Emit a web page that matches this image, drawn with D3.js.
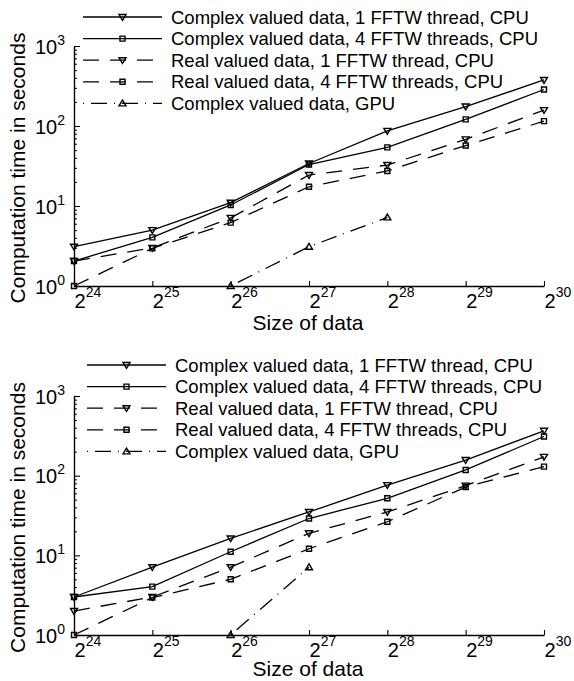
<!DOCTYPE html>
<html>
<head>
<meta charset="utf-8">
<script src="https://cdn.jsdelivr.net/npm/d3@7"></script>
<style>
body { margin: 0; background: #fff; }
svg { display: block; font-family: "Liberation Sans", Arial, Helvetica, sans-serif; }
</style>
</head>
<body>
<svg id="chart" width="574" height="681"></svg>
<script>
// sizes are powers of two, 2^24 .. 2^30
var EXPONENTS = [24, 25, 26, 27, 28, 29, 30];
var Y_DECADES = [0, 1, 2, 3];

var SERIES_NAMES = [
	"Complex valued data, 1 FFTW thread, CPU",
	"Complex valued data, 4 FFTW threads, CPU",
	"Real valued data, 1 FFTW thread, CPU",
	"Real valued data, 4 FFTW threads, CPU",
	"Complex valued data, GPU"
];

// upper plot
var TOP_COMPLEX_1 = [3.1, 5.0, 11, 34, 87, 175, 376];
var TOP_COMPLEX_4 = [2.05, 4.05, 10.3, 33, 54, 121, 286];
var TOP_REAL_1 = [2.05, 3.0, 7.1, 24.4, 32.5, 68, 158];
var TOP_REAL_4 = [1.0, 2.95, 6.2, 17.4, 27.4, 57, 115];
var TOP_GPU = [null, null, 1.0, 3.1, 7.2, null, null];

// lower plot
var BOT_COMPLEX_1 = [3.0, 7.1, 16.3, 35, 76, 157, 366];
var BOT_COMPLEX_4 = [3.0, 4.05, 11.1, 29, 52, 118, 310];
var BOT_REAL_1 = [2.0, 3.0, 7.1, 18.9, 35, 75, 172];
var BOT_REAL_4 = [1.0, 2.95, 5.0, 12.1, 26.4, 72, 130];
var BOT_GPU = [null, null, 1.0, 7.1, null, null, null];

var STYLES = [
	{ dash: null, marker: "down" },
	{ dash: null, marker: "square" },
	{ dash: "16,11", marker: "down" },
	{ dash: "16,11", marker: "square" },
	{ dash: "1,7,16,7", marker: "up" }
];

var svg = d3.select("#chart");

function markerPath(kind)
{
	if (kind == "square") return "M-2.5,-2.5H2.5V2.5H-2.5Z";
	if (kind == "up") return "M0,-3.3L3.5,2.5L-3.5,2.5Z";
	return "M0,3.3L3.5,-2.5L-3.5,-2.5Z";
}

function drawPanel(cfg)
{
	var x = d3.scaleLog().base(2)
		.domain([Math.pow(2, EXPONENTS[0]), Math.pow(2, EXPONENTS[EXPONENTS.length - 1])])
		.range([cfg.left, cfg.right]);
	var y = d3.scaleLog()
		.domain([1, 1000])
		.range([cfg.bottom, cfg.top]);

	var g = svg.append("g");

	// minor y ticks
	var minor = [];
	for (var d = 0; d < 3; d++)
		for (var k = 2; k < 10; k++) minor.push(k * Math.pow(10, d));
	g.append("g")
		.attr("transform", "translate(" + cfg.left + ",0)")
		.call(d3.axisLeft(y).tickValues(minor).tickSizeInner(-3).tickSizeOuter(0).tickFormat(""))
		.call(function(a) { a.select(".domain").remove(); a.selectAll("line").attr("stroke-width", 1); });

	// major y ticks
	var yAxis = g.append("g")
		.attr("transform", "translate(" + cfg.left + ",0)")
		.call(d3.axisLeft(y).tickValues(Y_DECADES.map(function(e) { return Math.pow(10, e); }))
			.tickSizeInner(-6).tickSizeOuter(0).tickFormat(""));
	yAxis.select(".domain").attr("stroke-width", 1.4);
	yAxis.selectAll("line").attr("stroke-width", 1.1);
	yAxis.selectAll(".tick").append("text")
		.attr("x", -9).attr("y", 7)
		.attr("text-anchor", "end")
		.attr("fill", "#000")
		.style("font-family", "inherit")
		.each(function(v) {
			var t = d3.select(this);
			t.append("tspan").style("font-size", "20px").text("10");
			t.append("tspan").style("font-size", "14px").attr("dy", -9).text(Math.round(Math.log10(v)));
		});

	// x axis
	var xAxis = g.append("g")
		.attr("transform", "translate(0," + cfg.bottom + ")")
		.call(d3.axisBottom(x).tickValues(EXPONENTS.map(function(e) { return Math.pow(2, e); }))
			.tickSizeInner(-5).tickSizeOuter(0).tickFormat(""));
	xAxis.select(".domain").attr("stroke-width", 1.4);
	xAxis.selectAll("line").attr("stroke-width", 1.1);
	xAxis.selectAll(".tick").append("text")
		.attr("x", 0).attr("y", 22)
		.attr("text-anchor", "start")
		.attr("fill", "#000")
		.style("font-family", "inherit")
		.each(function(v) {
			var t = d3.select(this);
			t.append("tspan").style("font-size", "20px").text("2");
			t.append("tspan").style("font-size", "14px").attr("dy", -11).text(Math.round(Math.log2(v)));
		});

	// axis titles
	g.append("text")
		.attr("x", 308).attr("y", cfg.titleY)
		.attr("text-anchor", "middle")
		.style("font-size", "21px")
		.text("Size of data");
	g.append("text")
		.attr("transform", "translate(25," + ((cfg.top + cfg.bottom) / 2 + 2) + ") rotate(-90)")
		.attr("text-anchor", "middle")
		.style("font-size", "21px")
		.text("Computation time in seconds");

	// series
	var line = d3.line()
		.x(function(d) { return x(Math.pow(2, d.e)); })
		.y(function(d) { return y(d.v); });

	cfg.series.forEach(function(vals, i) {
		var pts = EXPONENTS.map(function(e, j) { return { e: e, v: vals[j] }; })
			.filter(function(d) { return d.v != null; });
		var st = STYLES[i];
		g.append("path")
			.attr("d", line(pts))
			.attr("fill", "none")
			.attr("stroke", "#000")
			.attr("stroke-width", 1.3)
			.attr("stroke-dasharray", st.dash);
		g.selectAll(null)
			.data(pts)
			.enter().append("path")
			.attr("transform", function(d) { return "translate(" + x(Math.pow(2, d.e)) + "," + y(d.v) + ")"; })
			.attr("d", markerPath(st.marker))
			.attr("fill", "none")
			.attr("stroke", "#000")
			.attr("stroke-width", 1.4);
	});

	// legend
	var leg = g.append("g");
	SERIES_NAMES.forEach(function(name, i) {
		var ly = cfg.legendY + i * 21.6;
		var st = STYLES[i];
		leg.append("line")
			.attr("x1", cfg.legendX).attr("x2", cfg.legendX + 79)
			.attr("y1", ly).attr("y2", ly)
			.attr("stroke", "#000")
			.attr("stroke-width", 1.3)
			.attr("stroke-dasharray", st.dash);
		leg.append("path")
			.attr("transform", "translate(" + (cfg.legendX + 39.5) + "," + ly + ")")
			.attr("d", markerPath(st.marker))
			.attr("fill", "none")
			.attr("stroke", "#000")
			.attr("stroke-width", 1.4);
		leg.append("text")
			.attr("x", cfg.legendX + 88).attr("y", ly + 6.5)
			.style("font-size", "18.5px")
			.text(name);
	});
}

drawPanel({
	left: 74, right: 544, top: 46, bottom: 286, titleY: 330,
	legendX: 83, legendY: 17,
	series: [TOP_COMPLEX_1, TOP_COMPLEX_4, TOP_REAL_1, TOP_REAL_4, TOP_GPU]
});
drawPanel({
	left: 74, right: 544, top: 396, bottom: 635, titleY: 676,
	legendX: 87, legendY: 365,
	series: [BOT_COMPLEX_1, BOT_COMPLEX_4, BOT_REAL_1, BOT_REAL_4, BOT_GPU]
});
</script>
</body>
</html>
